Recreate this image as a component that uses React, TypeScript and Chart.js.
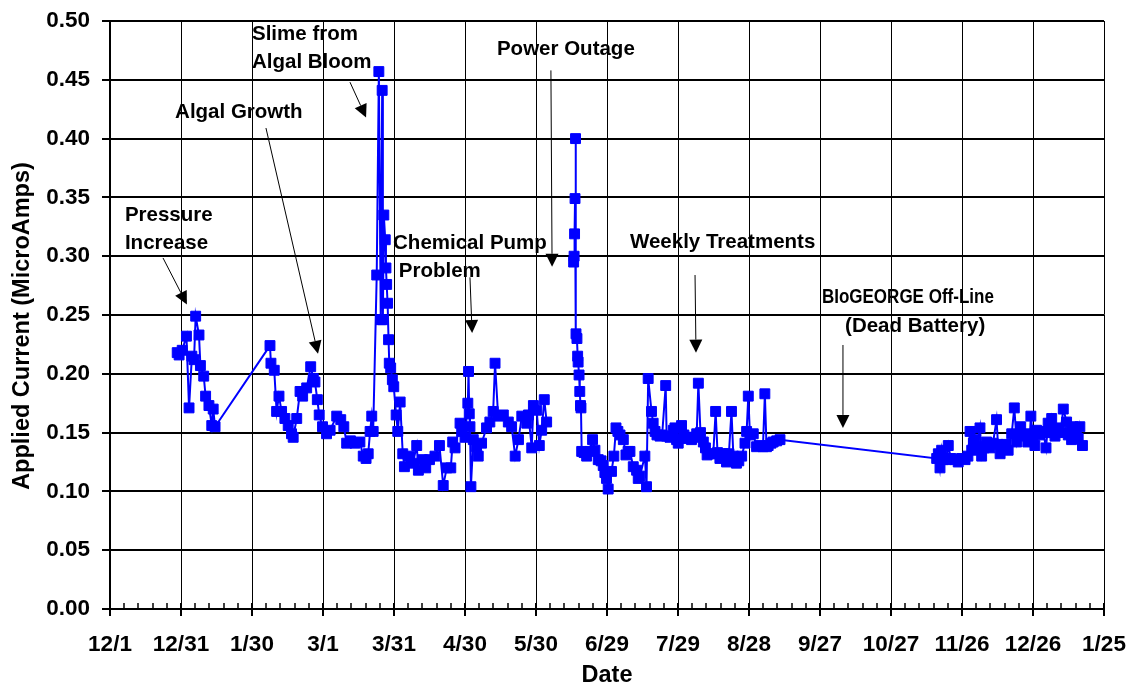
import React, { useEffect, useRef } from "react";
import { Chart, registerables } from "chart.js";

Chart.register(...registerables);

// X axis: days since 12/1
const dateTickLabels = ["12/1", "12/31", "1/30", "3/1", "3/31", "4/30", "5/30", "6/29", "7/29", "8/28", "9/27", "10/27", "11/26", "12/26", "1/25"];
const majorTickDays = 30;
const minorTickDays = 6;
const xMaxDays = 420;
const yAxisTitle = "Applied Current (MicroAmps)";
const xAxisTitle = "Date";

const sampleDays = [
  28.4, 29.2, 30.5, 32.3, 33.4, 34.6, 35.5, 36.2, 37.6, 38.2, 39.6, 40.4, 41.8, 43.0, 43.6, 44.4,
  67.6, 68.0, 69.4, 70.4, 71.4, 72.5, 73.9, 75.3, 76.7, 77.4, 78.9, 80.3, 81.4, 83.1, 84.8, 85.9,
  86.6, 87.6, 88.4, 89.8, 91.5, 93.0, 95.8, 97.5, 98.8, 100.0, 101.6, 103.5, 105.6, 107.0, 108.2,
  109.1, 109.9, 110.6, 111.2, 112.7, 113.6, 114.4, 115.0, 115.3, 115.7, 116.3, 116.6, 116.9, 117.3,
  117.7, 118.0, 118.6, 119.3, 119.9, 120.9, 121.6, 122.6, 123.7, 124.4, 126.5, 128.0, 129.6, 130.3,
  132.0, 133.4, 135.0, 137.3, 139.2, 140.8, 142.3, 144.0, 144.8, 145.8, 147.9, 148.6, 150.0, 151.2,
  151.5, 151.8, 152.1, 152.5, 153.5, 154.9, 155.6, 157.0, 159.1, 160.5, 161.9, 162.7, 164.0, 166.2,
  168.3, 169.7, 171.2, 172.6, 174.0, 176.1, 176.8, 178.2, 178.9, 180.3, 181.4, 182.4, 183.5, 184.5,
  190.0,
  195.9, 196.1, 196.3, 196.5, 196.7, 196.9, 197.3, 197.6, 197.8, 198.2, 198.5, 198.8, 199.0, 199.3,
  200.3, 201.4, 202.8, 203.9, 204.9, 206.3, 207.5, 208.4, 209.1, 209.8, 210.5, 211.9, 212.9, 213.8,
  214.6, 215.5, 216.9, 218.0, 218.9, 219.7, 221.1, 222.5, 223.2, 223.9, 226.0, 226.7, 227.4, 228.8,
  229.5, 230.3, 231.1, 232.4, 233.3, 234.8, 235.2, 236.6, 238.0, 238.7, 239.4, 240.1, 241.5, 242.5,
  243.6, 244.6, 245.7, 246.7, 247.9, 248.6, 249.5, 250.7, 251.6, 252.3, 253.5, 254.9, 255.9, 256.7,
  257.7, 258.8, 259.8, 260.5, 261.5, 262.6, 263.4, 264.7, 265.7, 266.9, 268.3, 269.0, 269.7, 270.4,
  271.8, 273.2, 274.6, 275.9, 276.7, 277.4, 278.1, 279.3, 280.2, 281.7, 283.1,
  349.3, 350.0, 350.7, 351.4, 352.0, 353.5, 354.2, 355.3, 357.0, 358.4, 359.8, 361.3, 362.5, 363.4,
  364.1, 364.8, 365.5, 366.3, 367.6, 368.3, 369.3, 370.4, 371.8, 373.1, 374.6, 375.2, 376.1, 377.4,
  378.6, 379.5, 381.0, 382.1, 383.1, 383.8, 384.8, 385.7, 386.6, 387.8, 388.7, 389.1, 390.0, 390.8,
  391.5, 392.9, 394.3, 395.5, 396.4, 397.1, 397.9, 399.3, 400.7, 401.6, 402.8, 404.2, 404.9, 405.6,
  406.3, 407.0, 408.1, 409.1, 409.8, 410.9,
];

// null = no reading (line break before the power-outage spike)
const appliedCurrent = [
  0.218, 0.216, 0.220, 0.232, 0.171, 0.215, 0.212, 0.249, 0.233, 0.207, 0.198, 0.181, 0.173, 0.156, 0.170, 0.155,
  0.224, 0.209, 0.203, 0.168, 0.181, 0.168, 0.162, 0.156, 0.149, 0.146, 0.162, 0.185, 0.181, 0.188, 0.206, 0.196,
  0.193, 0.178, 0.165, 0.155, 0.149, 0.152, 0.164, 0.161, 0.155, 0.141, 0.143, 0.141, 0.142, 0.130, 0.128,
  0.132, 0.151, 0.164, 0.151, 0.284, 0.457, 0.246, 0.441, 0.246, 0.335, 0.314, 0.290, 0.276, 0.260,
  0.229, 0.209, 0.205, 0.195, 0.189, 0.165, 0.151, 0.176, 0.132, 0.121, 0.130, 0.124, 0.139, 0.118,
  0.127, 0.120, 0.127, 0.130, 0.139, 0.105, 0.120, 0.120, 0.142, 0.137, 0.158, 0.151, 0.146, 0.175,
  0.202, 0.166, 0.155, 0.104, 0.144, 0.138, 0.130, 0.141, 0.154, 0.159, 0.168, 0.209, 0.164, 0.165,
  0.159, 0.155, 0.130, 0.144, 0.164, 0.158, 0.165, 0.137, 0.173, 0.169, 0.139, 0.152, 0.178, 0.159,
  null,
  0.295, 0.300, 0.319, 0.349, 0.400, 0.234, 0.230, 0.215, 0.210, 0.199, 0.185, 0.173, 0.171, 0.134,
  0.133, 0.130, 0.134, 0.144, 0.135, 0.127, 0.126, 0.122, 0.116, 0.111, 0.102, 0.117, 0.130, 0.154,
  0.151, 0.148, 0.144, 0.131, 0.134, 0.134, 0.121, 0.118, 0.111, 0.113, 0.130, 0.104, 0.196, 0.168,
  0.158, 0.151, 0.148, 0.147, 0.148, 0.190, 0.147, 0.146, 0.152, 0.154, 0.144, 0.141, 0.156, 0.148,
  0.145, 0.146, 0.144, 0.146, 0.149, 0.192, 0.150, 0.142, 0.137, 0.131, 0.132, 0.132, 0.168, 0.133,
  0.128, 0.132, 0.132, 0.125, 0.132, 0.168, 0.130, 0.124, 0.126, 0.130, 0.141, 0.151, 0.181, 0.148,
  0.149, 0.138, 0.139, 0.138, 0.183, 0.138, 0.139, 0.141, 0.142, 0.143, 0.144,
  0.128, 0.132, 0.120, 0.135, 0.127, 0.127, 0.139, 0.128, 0.127, 0.125, 0.128, 0.127, 0.130, 0.151,
  0.135, 0.141, 0.144, 0.138, 0.154, 0.130, 0.137, 0.142, 0.137, 0.141, 0.161, 0.140, 0.132, 0.139,
  0.140, 0.135, 0.149, 0.171, 0.142, 0.148, 0.155, 0.148, 0.147, 0.142, 0.149, 0.164, 0.145, 0.139,
  0.152, 0.148, 0.151, 0.137, 0.158, 0.150, 0.162, 0.147, 0.154, 0.150, 0.170, 0.159, 0.148, 0.150,
  0.144, 0.155, 0.151, 0.145, 0.155, 0.139,
];

// Annotations (text anchors and arrows in data coordinates: day, current)
const annotationTexts = [
  ["Pressure", "Increase"],
  ["Algal Growth"],
  ["Slime from", "Algal Bloom"],
  ["Chemical Pump", " Problem"],
  ["Power Outage"],
  ["Weekly Treatments"],
  ["BIoGEORGE Off-Line", "(Dead Battery)"],
];
const annotationTextDay = [[6.3, 6.3], [27.5], [60.0, 60.0], [119.6, 119.6], [163.5], [219.7], [300.8, 310.6]];
const annotationTextValue = [0.335, 0.422, 0.489, 0.311, 0.476, 0.312, 0.2645];
const annotationLineGap = 0.0238;
const arrowFrom = [[22.4, 0.2985], [65.9, 0.409], [101.4, 0.448], [152.1, 0.282], [186.3, 0.458], [247.2, 0.284], [309.7, 0.2245]];
const arrowTo = [[32.5, 0.259], [87.9, 0.217], [108.2, 0.418], [153.0, 0.2347], [186.8, 0.291], [247.6, 0.218], [309.7, 0.154]];

const FONT = "'Liberation Sans', Arial, Helvetica, sans-serif";

const decorPlugin = {
  id: "decor",
  afterDraw(chart: any) {
    const { ctx, chartArea } = chart;
    const xs = chart.scales.x;
    const ys = chart.scales.y;
    ctx.save();
    ctx.strokeStyle = "#000";
    for (let d = 0; d <= xMaxDays; d += minorTickDays) {
      const px = Math.round(xs.getPixelForValue(d));
      ctx.beginPath();
      if (d % majorTickDays === 0) {
        ctx.lineWidth = 2;
        ctx.moveTo(px, chartArea.bottom - 6);
        ctx.lineTo(px, chartArea.bottom + 7);
      } else {
        ctx.lineWidth = 1.5;
        ctx.moveTo(px, chartArea.bottom - 6);
        ctx.lineTo(px, chartArea.bottom);
      }
      ctx.stroke();
    }

    ctx.fillStyle = "#000";
    ctx.textAlign = "left";
    ctx.textBaseline = "middle";
    annotationTexts.forEach((lines, i) => {
      lines.forEach((ln, j) => {
        const tx = xs.getPixelForValue(annotationTextDay[i][j]);
        const ty = ys.getPixelForValue(annotationTextValue[i] - j * annotationLineGap);
        if (ln.startsWith("BIoGEORGE")) {
          ctx.font = `bold 19.5px ${FONT}`;
          ctx.fillText(ln, tx, ty, 172);
        } else {
          ctx.font = `bold 20.5px ${FONT}`;
          ctx.fillText(ln, tx, ty);
        }
      });
      const x1 = xs.getPixelForValue(arrowFrom[i][0]);
      const y1 = ys.getPixelForValue(arrowFrom[i][1]);
      const x2 = xs.getPixelForValue(arrowTo[i][0]);
      const y2 = ys.getPixelForValue(arrowTo[i][1]);
      const ang = Math.atan2(y2 - y1, x2 - x1);
      const headLen = 13;
      const headHalf = 6.5;
      const bx = x2 - headLen * Math.cos(ang);
      const by = y2 - headLen * Math.sin(ang);
      ctx.lineWidth = 1;
      ctx.beginPath();
      ctx.moveTo(x1, y1);
      ctx.lineTo(bx, by);
      ctx.stroke();
      ctx.beginPath();
      ctx.moveTo(x2, y2);
      ctx.lineTo(bx + headHalf * Math.sin(ang), by - headHalf * Math.cos(ang));
      ctx.lineTo(bx - headHalf * Math.sin(ang), by + headHalf * Math.cos(ang));
      ctx.closePath();
      ctx.fill();
    });

    // Y axis title (rotated), centred slightly below the plot's middle as in the original
    ctx.save();
    ctx.font = `bold 23.5px ${FONT}`;
    ctx.textAlign = "center";
    ctx.textBaseline = "middle";
    ctx.translate(23, 326);
    ctx.rotate(-Math.PI / 2);
    ctx.fillText(yAxisTitle, 0, 0);
    ctx.restore();

    ctx.restore();
  },
};

export default function App() {
  const canvasRef = useRef<HTMLCanvasElement | null>(null);

  useEffect(() => {
    const canvas = canvasRef.current;
    if (!canvas) return;
    const points = sampleDays.map((d, i) => ({ x: d, y: appliedCurrent[i] }));
    const chart = new Chart(canvas, {
      type: "line",
      data: {
        datasets: [
          {
            data: points,
            borderColor: "#0000FF",
            backgroundColor: "#0000FF",
            borderWidth: 2,
            tension: 0,
            spanGaps: false,
            pointStyle: "rect",
            pointRadius: 7,
            pointBorderWidth: 1,
            pointBackgroundColor: "#0000FF",
            pointBorderColor: "#0000FF",
            fill: false,
          },
        ],
      },
      options: {
        animation: false,
        responsive: false,
        devicePixelRatio: 1,
        layout: { padding: { top: 21, right: 27, left: 0, bottom: 0 } },
        plugins: { legend: { display: false }, tooltip: { enabled: false } },
        scales: {
          x: {
            type: "linear",
            min: 0,
            max: xMaxDays,
            afterFit: (s: any) => {
              s.height = 77;
              s.paddingLeft = 0;
              s.paddingRight = 0;
            },
            ticks: {
              stepSize: majorTickDays,
              autoSkip: false,
              maxRotation: 0,
              padding: 22,
              color: "#000",
              font: { family: FONT, size: 22.5, weight: "bold" },
              callback: (v: any) => dateTickLabels[Math.round(Number(v) / majorTickDays)] ?? "",
            },
            grid: { color: "#000", lineWidth: 1, drawTicks: false },
            border: { display: true, color: "#000", width: 2 },
            title: {
              display: true,
              text: xAxisTitle,
              color: "#000",
              font: { family: FONT, size: 23.5, weight: "bold", lineHeight: 1 },
              padding: { top: 0, bottom: -1 },
            },
          },
          y: {
            min: 0,
            max: 0.5,
            afterFit: (s: any) => {
              s.width = 110;
              s.paddingTop = 0;
              s.paddingBottom = 0;
            },
            ticks: {
              stepSize: 0.05,
              padding: 12,
              color: "#000",
              font: { family: FONT, size: 22.5, weight: "bold" },
              callback: (v: any) => Number(v).toFixed(2),
            },
            grid: { color: "#000", lineWidth: 2, drawTicks: true, tickLength: 8 },
            border: { display: true, color: "#000", width: 2 },
            title: { display: false },
          },
        },
      },
      plugins: [decorPlugin],
    } as any);
    return () => chart.destroy();
  }, []);

  return (
    <div style={{ position: "absolute", left: 0, top: 0, width: 1131, height: 686, background: "#fff" }}>
      <canvas ref={canvasRef} width={1131} height={686} style={{ display: "block" }} />
    </div>
  );
}
